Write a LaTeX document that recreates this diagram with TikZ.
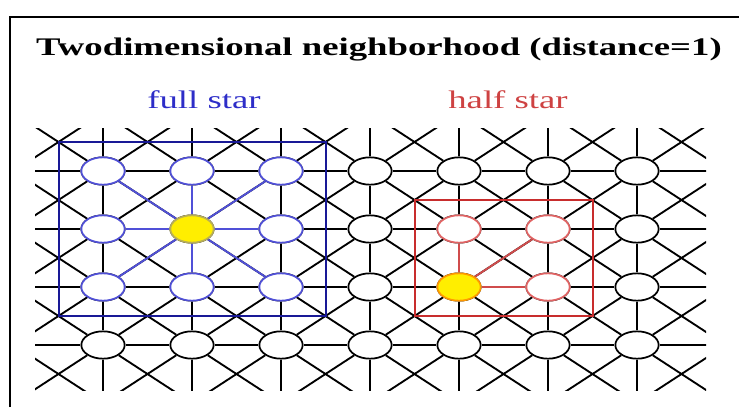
\documentclass[tikz,border=0pt]{standalone}
\usepackage{fontspec}
\setmainfont{Liberation Serif}
\usepackage{xcolor}
\usetikzlibrary{shapes.geometric}

\definecolor{fullblue}{RGB}{25,25,150}
\definecolor{lightblue}{RGB}{80,80,215}
\definecolor{textblue}{RGB}{45,45,200}
\definecolor{halfred}{RGB}{200,45,45}
\definecolor{lightred}{RGB}{225,100,100}
\definecolor{sun}{RGB}{255,238,0}

\begin{document}
\begin{tikzpicture}[x=0.75pt, y=-0.75pt,
        cell/.style={draw, ellipse, fill=white, line width=1.3pt, minimum width=32.5pt, minimum height=20.5pt, inner sep=0pt},
        link/.style={line width=1.4pt},
        lbl/.style={font=\fontsize{19}{22}\selectfont, xscale=1.45, inner sep=0pt}]
    \useasboundingbox (0,0) rectangle (739,407);
    \draw[line width=1.4pt] (10,407) -- (10,17) -- (739,17);
    \node[lbl, font=\fontsize{19}{22}\selectfont\bfseries] (title) at (379,50) {Twodimensional neighborhood (distance=1)};
    \node[lbl, text=textblue] (full) at (204,100) {full star};
    \node[lbl, text=halfred!90!white] (half) at (508,100) {half star};

    % lattice, the outer ring only as points
    \foreach \i in {0,...,8} {
        \foreach \j in {0,...,5}
            \coordinate (p-\i-\j) at (14+89*\i, 113+58*\j);
    }
    \foreach \i in {1,...,7} {
        \foreach \j in {1,...,4}
            \node[cell] (p-\i-\j) at (14+89*\i, 113+58*\j) {};
    }

    \begin{scope}
        \clip (35,128) rectangle (706,390);
        \foreach \i [evaluate=\i as \ni using int(\i+1)] in {0,...,7} {
            \foreach \j in {0,...,5}
                \draw[link] (p-\i-\j) -- (p-\ni-\j);
        }
        \foreach \i in {0,...,8} {
            \foreach \j [evaluate=\j as \nj using int(\j+1)] in {0,...,4}
                \draw[link] (p-\i-\j) -- (p-\i-\nj);
        }
        \foreach \i [evaluate=\i as \ni using int(\i+1)] in {0,...,7} {
            \foreach \j [evaluate=\j as \nj using int(\j+1)] in {0,...,4} {
                \draw[link] (p-\i-\j) -- (p-\ni-\nj);
                \draw[link] (p-\i-\nj) -- (p-\ni-\j);
            }
        }
    \end{scope}

    % full star
    \draw[line width=1.5pt, fullblue] (58.5,142) rectangle (325.5,316);
    \foreach \n in {1-1,2-1,3-1,1-2,3-2,1-3,2-3,3-3} {
        \node[cell, draw=lightblue] at (p-\n) {};
        \draw[link, lightblue] (p-2-2) -- (p-\n);
    }
    \node[cell, draw=lightblue!40!sun, fill=sun] at (p-2-2) {};

    % half star
    \draw[line width=1.5pt, halfred] (414.5,200) rectangle (592.5,316);
    \foreach \n in {5-2,6-2,6-3} {
        \node[cell, draw=lightred] at (p-\n) {};
        \draw[link, halfred!85] (p-5-3) -- (p-\n);
    }
    \node[cell, draw=orange!80!yellow, fill=sun] at (p-5-3) {};
\end{tikzpicture}
\end{document}
